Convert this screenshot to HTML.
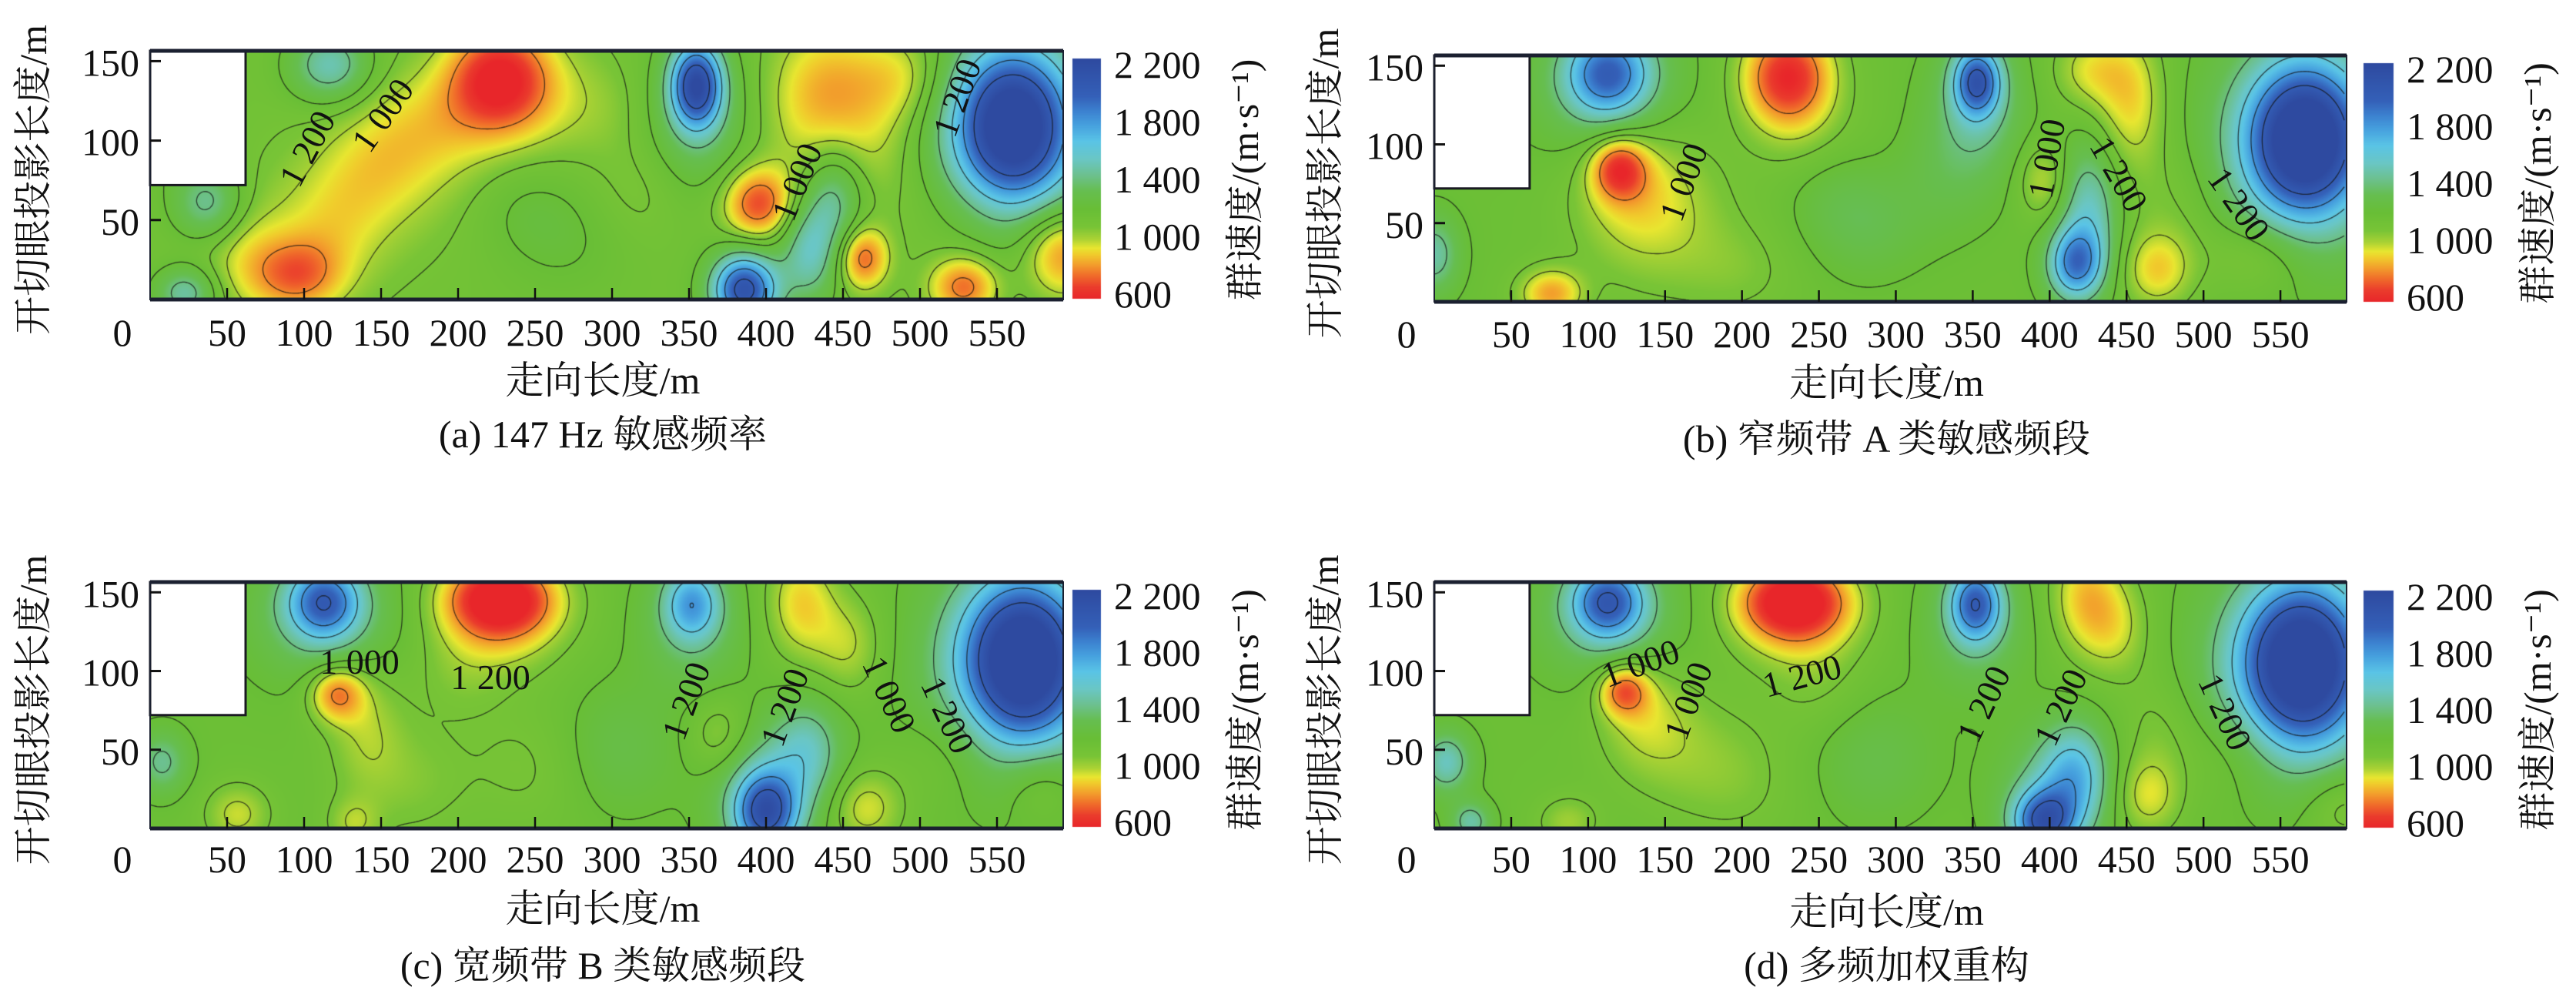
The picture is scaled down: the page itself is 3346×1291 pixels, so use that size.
<!DOCTYPE html>
<html><head><meta charset="utf-8">
<style>
html,body{margin:0;padding:0;background:#fff;}
#wrap{position:relative;width:3346px;height:1291px;overflow:hidden;background:#fff;}
#cv{position:absolute;left:0;top:0;}
#sv{position:absolute;left:0;top:0;}
text{font-family:"Liberation Serif","Noto Serif CJK SC","Noto Sans CJK SC",serif;fill:#111;}
</style></head>
<body>
<div id="wrap">
<canvas id="cv" width="3346" height="1291"></canvas>
<svg id="sv" width="3346" height="1291" xmlns="http://www.w3.org/2000/svg"></svg>
</div>
<script>
// ---- shared axis data ----
const xTicks = [50,100,150,200,250,300,350,400,450,500,550];
const xTickLabels = ["50","100","150","200","250","300","350","400","450","500","550"];
const yTicks = [50,100,150];
const yTickLabels = ["50","100","150"];
const cbTicks = [600,1000,1400,1800,2200];
const cbTickLabels = ["600","1 000","1 400","1 800","2 200"];
const contourLevels = [800,1000,1100,1200,1400,1600,1800,2000];

// ---- panel (a) blobs: x(m), y(m), amplitude, sigma-x, sigma-y ----
const blobX_a  = [227,250,95,120,145,170,200,117,38,23,355,355,386,428,445,395,438,491,560,560,463,529,592,540,470,300,60,80,130,180,500,430,470,270,320,240,20];
const blobY_a  = [140,125,15,45,80,105,120,147,60,4,135,115,6,30,65,60,132,140,110,100,26,8,30,50,95,120,30,25,60,100,80,110,140,40,70,60,110];
const blobAmp_a= [-480,-100,-300,-80,-80,-80,-60,380,320,350,900,250,950,380,320,-430,-180,-150,950,400,-380,-400,-400,-80,-70,-60,-80,-90,-90,-90,-70,-70,-60,80,-80,70,120];
const blobSx_a = [20,30,18,20,22,25,25,16,14,12,10,22,13,12,12,14,22,18,22,38,10,14,16,25,20,25,15,30,35,35,40,30,30,25,20,20,15];
const blobSy_a = [20,25,14,22,20,20,20,14,14,10,16,30,14,20,20,14,28,18,28,45,12,12,18,20,25,20,20,25,30,30,40,30,20,25,20,20,20];

// ---- panel (b) ----
const blobX_b  = [113,113,230,353,353,453,426,120,130,426,417,566,566,470,396,76,0,286,536,20,150,250,200,330,480,260];
const blobY_b  = [145,135,143,140,125,127,147,85,75,60,24,103,100,20,77,5,30,48,30,150,50,100,20,80,60,70];
const blobAmp_b= [600,250,-560,700,260,-250,-200,-420,-200,350,650,1000,350,-250,-200,-330,300,100,-150,150,-110,-90,-80,90,-90,110];
const blobSx_b = [16,28,18,9,18,14,15,11,25,12,11,22,36,14,10,13,10,20,20,15,30,25,25,20,20,20];
const blobSy_b = [16,28,20,13,28,28,15,12,28,25,14,28,42,15,15,10,15,20,15,15,30,20,20,25,25,25];

// ---- panel (c) ----
const blobX_c  = [113,113,227,230,352,352,423,454,121,140,427,400,400,567,567,465,370,57,132,302,8,578,250,200,520,170];
const blobY_c  = [144,135,147,130,143,130,143,116,86,65,50,10,20,108,100,13,59,9,3,50,42,30,40,100,50,30];
const blobAmp_c= [620,250,-580,-200,450,200,-260,-180,-380,-150,300,700,300,1000,350,-220,-160,-200,-150,120,260,-150,-90,-80,-100,-100];
const blobSx_c = [14,28,22,25,11,20,14,14,11,15,14,12,20,23,38,15,12,13,10,25,10,15,25,20,20,25];
const blobSy_c = [14,25,15,20,14,25,22,20,11,25,20,15,25,30,42,15,15,12,10,25,12,15,25,20,20,25];

// ---- panel (d) ----
const blobX_d  = [113,113,234,234,352,352,423,443,123,135,417,396,400,564,564,464,8,24,87,286,590,160,250,200,520,470];
const blobY_d  = [144,135,146,130,143,130,148,127,88,75,34,4,20,105,100,20,42,4,4,44,15,50,90,30,50,60];
const blobAmp_d= [650,250,-580,-200,650,220,-260,-180,-380,-170,400,700,250,1000,350,-200,350,300,-150,120,-150,-100,-80,-80,-100,-100];
const blobSx_d = [14,28,22,25,10,20,14,14,10,18,13,12,20,23,38,13,10,8,12,25,15,25,20,25,20,15];
const blobSy_d = [14,25,15,18,14,25,22,20,10,22,20,12,25,30,42,15,12,8,10,25,15,25,20,25,20,25];

// ---- contour label data: text, x(m), y(m), angle ----
const clText_a = ["1 200","1 000","1 000","1 200"];
const clX_a = [102,151,420,524]; const clY_a = [95,116,74,127]; const clR_a = [-62,-55,-68,-70];
const clText_b = ["1 000","1 000","1 200","1 200"];
const clX_b = [162,398,445,523]; const clY_b = [76,91,81,62]; const clR_b = [-70,-80,60,55];
const clText_c = ["1 000","1 200","1 200","1 200","1 000","1 200"];
const clX_c = [136,221,348,412,480,518]; const clY_c = [106,96,81,77,85,72]; const clR_c = [0,0,-70,-70,65,65];
const clText_d = ["1 000","1 000","1 200","1 200","1 200","1 200"];
const clX_d = [134,165,239,357,407,514]; const clY_d = [105,81,97,79,77,74]; const clR_d = [-20,-70,-15,-65,-65,65];

const XMAX = 593, YMAX = 156.5, SIGSCALE = 1.15;
const baseVal = {a:1130,b:1170,c:1170,d:1170};
const cmapStops = [[600,[232,38,42]],[680,[234,60,44]],[760,[240,110,42]],[830,[242,158,44]],[900,[240,205,44]],[940,[232,230,48]],[1000,[170,210,52]],[1080,[120,196,54]],[1200,[104,190,54]],[1320,[102,190,80]],[1420,[108,192,140]],[1530,[106,198,196]],[1650,[90,196,230]],[1760,[70,160,222]],[1850,[60,130,208]],[1950,[52,96,184]],[2200,[46,74,160]]];
function cmap(v){
  if(v<=cmapStops[0][0]) return cmapStops[0][1];
  for(let i=1;i<cmapStops.length;i++){
    if(v<=cmapStops[i][0]){
      const a=cmapStops[i-1],b=cmapStops[i],t=(v-a[0])/(b[0]-a[0]);
      return [a[1][0]+(b[1][0]-a[1][0])*t,a[1][1]+(b[1][1]-a[1][1])*t,a[1][2]+(b[1][2]-a[1][2])*t];
    }
  }
  return cmapStops[cmapStops.length-1][1];
}

const panels = [
 {key:'a',px:195,py:66,pw:1186,ph:323,cbx:1393,cby:76,cbw:37,cbh:312,cbLabX:1447,yTitleX:43,cTitleX:1617,xTickY:432,xTitleY:494,capY:564,
  caption:'(a) 147 Hz 敏感频率',bx:blobX_a,by:blobY_a,ba:blobAmp_a,bsx:blobSx_a,bsy:blobSy_a,ct:clText_a,cx:clX_a,cy:clY_a,cr:clR_a},
 {key:'b',px:1863,py:72,pw:1185,ph:320,cbx:3070,cby:82,cbw:39,cbh:310,cbLabX:3126,yTitleX:1721,cTitleX:3296,xTickY:434,xTitleY:497,capY:570,
  caption:'(b) 窄频带 A 类敏感频段',bx:blobX_b,by:blobY_b,ba:blobAmp_b,bsx:blobSx_b,bsy:blobSy_b,ct:clText_b,cx:clX_b,cy:clY_b,cr:clR_b},
 {key:'c',px:195,py:756,pw:1186,ph:320,cbx:1393,cby:766,cbw:37,cbh:308,cbLabX:1447,yTitleX:43,cTitleX:1617,xTickY:1116,xTitleY:1180,capY:1254,
  caption:'(c) 宽频带 B 类敏感频段',bx:blobX_c,by:blobY_c,ba:blobAmp_c,bsx:blobSx_c,bsy:blobSy_c,ct:clText_c,cx:clX_c,cy:clY_c,cr:clR_c},
 {key:'d',px:1863,py:756,pw:1185,ph:320,cbx:3070,cby:767,cbw:39,cbh:308,cbLabX:3126,yTitleX:1721,cTitleX:3296,xTickY:1116,xTitleY:1184,capY:1254,
  caption:'(d) 多频加权重构',bx:blobX_d,by:blobY_d,ba:blobAmp_d,bsx:blobSx_d,bsy:blobSy_d,ct:clText_d,cx:clX_d,cy:clY_d,cr:clR_d}
];

const cv=document.getElementById('cv'), ctx=cv.getContext('2d');
const sv=document.getElementById('sv');
const NS='http://www.w3.org/2000/svg';
function mk(tag,attrs,parent){const e=document.createElementNS(NS,tag);for(const k in attrs)e.setAttribute(k,attrs[k]);(parent||sv).appendChild(e);return e;}

panels.forEach(P=>{
  const xs=m=>P.px+m/XMAX*P.pw;
  const ys=m=>P.py+P.ph-m/YMAX*P.ph;
  const W=P.pw,H=P.ph;
  const field=new Float32Array(W*H);
  const nb=P.bx.length;
  const BASE=baseVal[P.key];
  for(let j=0;j<H;j++){
    const ym=(P.ph-j-0.5)/P.ph*YMAX;
    for(let i=0;i<W;i++){
      const xm=(i+0.5)/P.pw*XMAX;
      let v=BASE;
      for(let k=0;k<nb;k++){
        const dx=(xm-P.bx[k])/(P.bsx[k]*SIGSCALE),dy=(ym-P.by[k])/(P.bsy[k]*SIGSCALE);
        const d=0.5*(dx*dx+dy*dy);
        if(d<12) v+=P.ba[k]*Math.exp(-d);
      }
      field[j*W+i]=Math.max(600,Math.min(2200,v));
    }
  }
  const img=ctx.createImageData(W,H);
  for(let p=0;p<W*H;p++){const c=cmap(field[p]);img.data[p*4]=c[0];img.data[p*4+1]=c[1];img.data[p*4+2]=c[2];img.data[p*4+3]=255;}
  ctx.putImageData(img,P.px,P.py);
  ctx.save();ctx.strokeStyle='rgba(20,20,20,0.75)';ctx.lineWidth=1.3;ctx.beginPath();
  const S=3;
  for(const L of contourLevels){
    for(let j=0;j+S<H;j+=S){
      for(let i=0;i+S<W;i+=S){
        const v0=field[j*W+i],v1=field[j*W+i+S],v2=field[(j+S)*W+i+S],v3=field[(j+S)*W+i];
        const pts=[];
        if((v0-L)*(v1-L)<0){const t=(L-v0)/(v1-v0);pts.push([i+t*S,j]);}
        if((v1-L)*(v2-L)<0){const t=(L-v1)/(v2-v1);pts.push([i+S,j+t*S]);}
        if((v3-L)*(v2-L)<0){const t=(L-v3)/(v2-v3);pts.push([i+t*S,j+S]);}
        if((v0-L)*(v3-L)<0){const t=(L-v0)/(v3-v0);pts.push([i,j+t*S]);}
        for(let q=0;q+1<pts.length;q+=2){ctx.moveTo(P.px+pts[q][0],P.py+pts[q][1]);ctx.lineTo(P.px+pts[q+1][0],P.py+pts[q+1][1]);}
      }
    }
  }
  ctx.stroke();ctx.restore();
  for(let y=0;y<P.cbh;y++){
    const v=600+(P.cbh-y)/P.cbh*1600;const c=cmap(v);
    ctx.fillStyle='rgb('+c.map(Math.round).join(',')+')';
    ctx.fillRect(P.cbx,P.cby+y,P.cbw,1);
  }

  const g=mk('g',{});
  
  
  const wr=mk('rect',{x:P.px,y:ys(YMAX),width:xs(62)-P.px,height:ys(72)-ys(YMAX),fill:'#fff',stroke:'#1a1a22','stroke-width':3},g);
  
  
  const fr=mk('rect',{x:P.px,y:P.py,width:P.pw,height:P.ph,fill:'none',stroke:'#1b2030','stroke-width':2},g);
  
  
  const tb=mk('line',{x1:P.px,x2:P.px+P.pw,y1:P.py,y2:P.py,stroke:'#1b2030','stroke-width':5},g);
  
  
  const bb=mk('line',{x1:P.px,x2:P.px+P.pw,y1:P.py+P.ph,y2:P.py+P.ph,stroke:'#1b2030','stroke-width':5},g);
  
  
  xTicks.forEach((t,ix)=>{
    const tk=mk('line',{x1:xs(t),x2:xs(t),y1:P.py+P.ph,y2:P.py+P.ph-15,stroke:'#111','stroke-width':2.5},g);
    
    
    const tl=mk('text',{x:xs(t),y:P.xTickY,'font-size':50,'text-anchor':'middle','dominant-baseline':'central'},g);
    tl.textContent=xTickLabels[ix];
    
    
  });
  const z=mk('text',{x:P.px-36,y:P.xTickY,'font-size':50,'text-anchor':'middle','dominant-baseline':'central'},g);
  z.textContent='0';
  
  
  yTicks.forEach((t,iy)=>{
    const tk=mk('line',{x1:P.px,x2:P.px+14,y1:ys(t),y2:ys(t),stroke:'#111','stroke-width':3},g);
    
    
    const tl=mk('text',{x:P.px-14,y:ys(t)+2,'font-size':50,'text-anchor':'end','dominant-baseline':'central'},g);
    tl.textContent=yTickLabels[iy];
    
    
  });
  cbTicks.forEach((t,ic)=>{
    const yy=P.cby+P.cbh-6-(t-600)/1600*(P.cbh-14);
    const tl=mk('text',{x:P.cbLabX,y:yy,'font-size':50,'text-anchor':'start','dominant-baseline':'central'},g);
    tl.textContent=cbTickLabels[ic];
    
    
  });
  P.ct.forEach((s,k)=>{
    const tl=mk('text',{x:xs(P.cx[k]),y:ys(P.cy[k]),'font-size':46,'text-anchor':'middle','dominant-baseline':'central',transform:'rotate('+P.cr[k]+' '+xs(P.cx[k])+' '+ys(P.cy[k])+')'},g);
    tl.textContent=s;
    
    
  });
  const cyc=P.py+P.ph/2+6;
  const yt=mk('text',{x:P.yTitleX,y:cyc,'font-size':50,'text-anchor':'middle','dominant-baseline':'central',transform:'rotate(-90 '+P.yTitleX+' '+cyc+')'},g);
  yt.textContent='开切眼投影长度/m';
  
  
  const ct=mk('text',{x:P.cTitleX,y:cyc,'font-size':50,'text-anchor':'middle','dominant-baseline':'central',transform:'rotate(-90 '+P.cTitleX+' '+cyc+')'},g);
  ct.textContent='群速度/(m·s⁻¹)';
  
  
  const xt=mk('text',{x:P.px+P.pw/2-5,y:P.xTitleY,'font-size':50,'text-anchor':'middle','dominant-baseline':'central'},g);
  xt.textContent='走向长度/m';
  
  
  const cp=mk('text',{x:P.px+P.pw/2-5,y:P.capY,'font-size':50,'text-anchor':'middle','dominant-baseline':'central'},g);
  cp.textContent=P.caption;
  
  
});
</script>
</body></html>
